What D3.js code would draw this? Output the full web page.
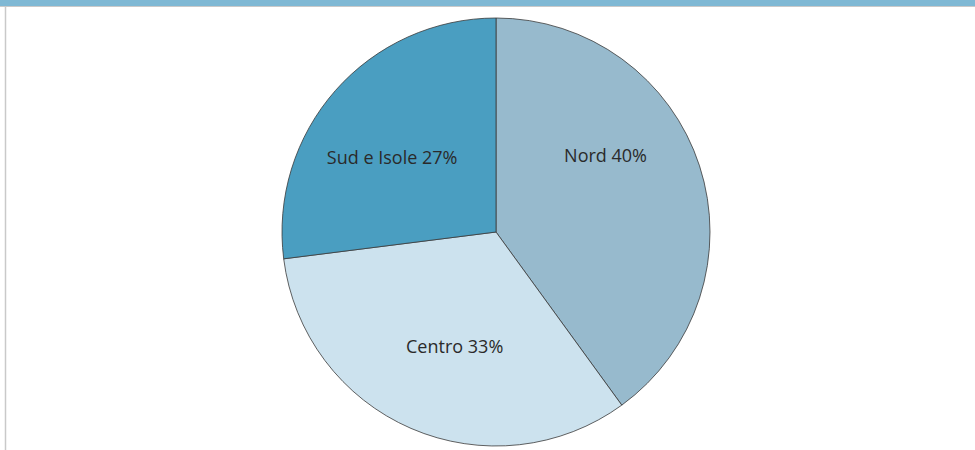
<!DOCTYPE html>
<html>
<head>
<meta charset="utf-8">
<script src="https://cdn.jsdelivr.net/npm/d3@7"></script>
<style>
  body { margin: 0; background: #fff; }
  svg { display: block; }
</style>
</head>
<body>
<div id="drawArea"></div>
<script>
// dati del grafico
var categories = ["Nord", "Centro", "Sud e Isole"];
var values = [40, 33, 27];
var colors = ["#97bacd", "#cce2ee", "#4a9ec1"];

var width = 975, height = 450;
var cx = 496, cy = 232, radius = 214;

var svg = d3.select("#drawArea")
  .append("svg")
  .attr("width", width)
  .attr("height", height);

// fascia azzurra in alto + bordo
svg.append("rect").attr("x", 0).attr("y", 0).attr("width", width).attr("height", 6).attr("fill", "#7fb8d4");
svg.append("line").attr("x1", 0).attr("x2", width).attr("y1", 6.5).attr("y2", 6.5).attr("stroke", "#c9c9c9");
svg.append("line").attr("x1", 5.5).attr("x2", 5.5).attr("y1", 7).attr("y2", height).attr("stroke", "#c9c9c9").attr("stroke-width", 1.5);

var pie = d3.pie().sort(null).value(function(d){ return d; });
var arc = d3.arc().innerRadius(0).outerRadius(radius);

var g = svg.append("g").attr("transform", "translate(" + cx + "," + cy + ")");

var arcs = pie(values);

g.selectAll("path")
  .data(arcs)
  .enter()
  .append("path")
    .attr("d", arc)
    .attr("fill", function(d, i){ return colors[i]; })
    .attr("stroke", "#3a3a3a")
    .attr("stroke-width", 0.8);

// posizione etichette (angolo dal centro, frazione del raggio) come "best fit" di excel
var labelAngle = [55, 200, 306];
var labelDist = [0.625, 0.565, 0.6];

g.selectAll("text")
  .data(arcs)
  .enter()
  .append("text")
    .attr("x", function(d, i){ return Math.sin(labelAngle[i] * Math.PI / 180) * radius * labelDist[i]; })
    .attr("y", function(d, i){ return -Math.cos(labelAngle[i] * Math.PI / 180) * radius * labelDist[i]; })
    .attr("text-anchor", "middle")
    .attr("dominant-baseline", "central")
    .attr("font-family", "'Open Sans', sans-serif")
    .attr("font-size", 18)
    .attr("fill", "#2a2a2a")
    .text(function(d, i){ return categories[i] + " " + values[i] + "%"; });
</script>
</body>
</html>
